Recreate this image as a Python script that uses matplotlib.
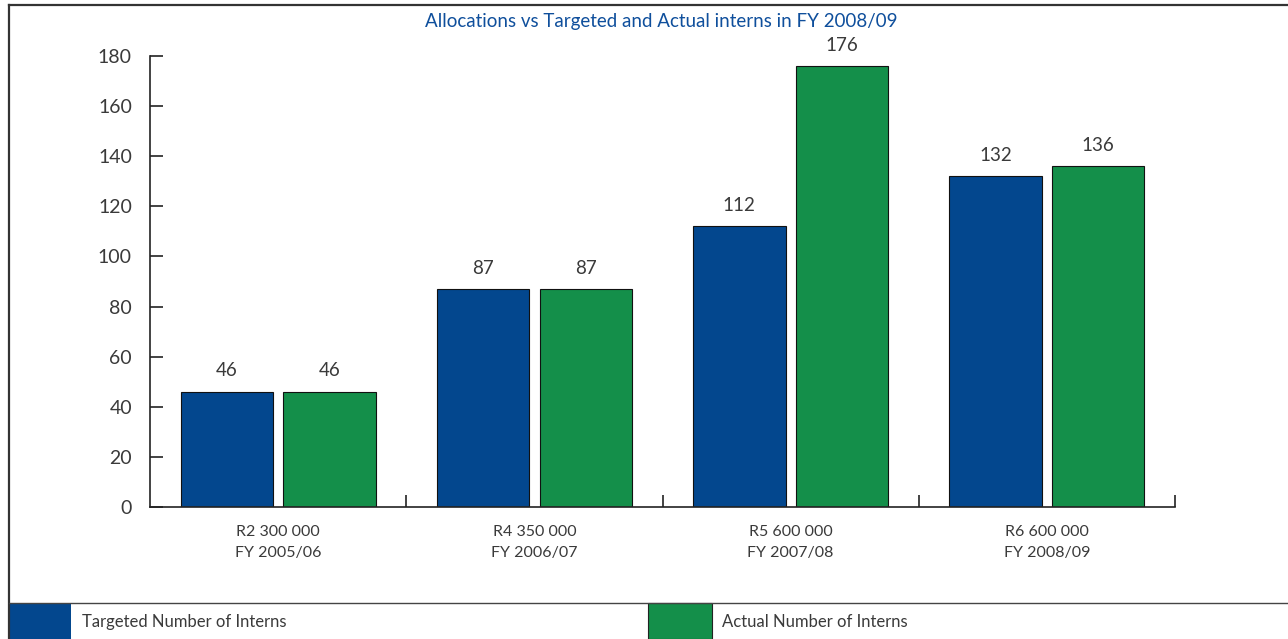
import matplotlib
matplotlib.use("Agg")
import matplotlib.pyplot as plt
from matplotlib.patches import Rectangle
from matplotlib.lines import Line2D
import numpy as np

plt.rcParams['font.family'] = ['Lato', 'DejaVu Sans']

# Data
categories = ["R2 300 000\nFY 2005/06", "R4 350 000\nFY 2006/07",
              "R5 600 000\nFY 2007/08", "R6 600 000\nFY 2008/09"]
targeted = [46, 87, 112, 132]
actual = [46, 87, 176, 136]
series_names = ["Targeted Number of Interns", "Actual Number of Interns"]
y_ticks = [0, 20, 40, 60, 80, 100, 120, 140, 160, 180]
title = "Allocations vs Targeted and Actual interns in FY 2008/09"

BLUE = "#03478e"
GREEN = "#148f4a"
TEXT = "#3a3a3a"

W, H = 1288, 639
fig = plt.figure(figsize=(W / 100, H / 100), dpi=100)

def fx(px):
    return px / W

def fy(py):
    return 1 - py / H

ax = fig.add_axes([fx(150), fy(507), fx(1175) - fx(150), fy(56) - fy(507)])

x = np.arange(len(categories))
bw = 0.36
off = 0.2
b1 = ax.bar(x - off, targeted, bw, color=BLUE, edgecolor="#111111", linewidth=0.8)
b2 = ax.bar(x + off, actual, bw, color=GREEN, edgecolor="#111111", linewidth=0.8)
for bars in (b1, b2):
    ax.bar_label(bars, padding=9, fontsize=13.5, color=TEXT)

ax.set_xlim(-0.5, len(categories) - 0.5)
ax.set_ylim(0, 180)
ax.set_yticks(y_ticks)
ax.tick_params(axis="y", direction="in", length=9, width=1.2, pad=13,
               labelsize=14, labelcolor=TEXT, color="#222222")
ax.set_xticks(x)
ax.set_xticklabels(categories, fontsize=11.5, color=TEXT, linespacing=1.65)
ax.tick_params(axis="x", which="major", length=0, pad=13)
ax.set_xticks(np.arange(0.5, len(categories), 1.0), minor=True)
ax.tick_params(axis="x", which="minor", direction="in", length=9, width=1.2,
               color="#222222")

for s in ("top", "right"):
    ax.spines[s].set_visible(False)
for s in ("left", "bottom"):
    ax.spines[s].set_linewidth(1.2)
    ax.spines[s].set_color("#222222")

fig.text(fx(661), fy(22), title, ha="center", va="center", fontsize=13.5,
         color="#0f4f9c")

# Outer frame (left and top edges)
fig.add_artist(Line2D([fx(9), fx(9)], [fy(5), 0], color="#333333", lw=1.6,
                      transform=fig.transFigure))
fig.add_artist(Line2D([fx(9), 1], [fy(5), fy(5)], color="#333333", lw=1.6,
                      transform=fig.transFigure))

# Legend strip along the bottom
fig.add_artist(Line2D([fx(9), 1], [fy(603), fy(603)], color="#444444", lw=1.0,
                      transform=fig.transFigure))
fig.add_artist(Rectangle((fx(9), 0), fx(71) - fx(9), fy(603), facecolor=BLUE,
                         edgecolor="none", transform=fig.transFigure))
fig.add_artist(Rectangle((fx(648), 0), fx(712) - fx(648), fy(603), facecolor=GREEN,
                         edgecolor="#222222", lw=0.8, transform=fig.transFigure))
fig.text(fx(82), fy(622), series_names[0], ha="left", va="center", fontsize=12,
         color=TEXT)
fig.text(fx(722), fy(622), series_names[1], ha="left", va="center", fontsize=12,
         color=TEXT)

fig.savefig("out.png", dpi=100, facecolor="white")
